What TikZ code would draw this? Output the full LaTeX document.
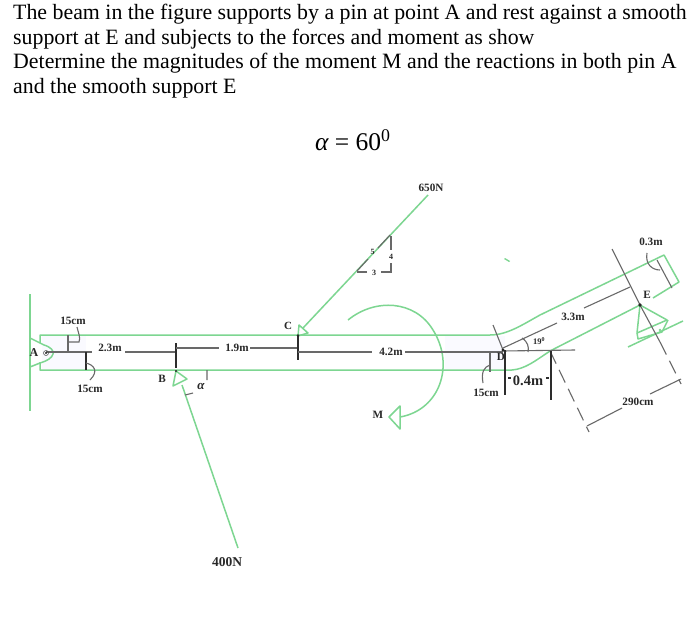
\documentclass[tikz,border=0pt]{standalone}
\usepackage{fontspec}
\setmainfont{Liberation Serif}
\definecolor{bgreen}{RGB}{125,214,145}
\definecolor{dgray}{RGB}{105,105,105}
\definecolor{kgray}{RGB}{45,45,45}
\definecolor{tgray}{RGB}{40,40,40}
\begin{document}
\begin{tikzpicture}[x=1pt,y=-1pt,
  gr/.style={draw=bgreen,line width=1.5pt,line join=round},
  dim/.style={draw=dgray,line width=1.1pt},
  dimk/.style={draw=kgray,line width=1.1pt},
  lab/.style={font=\bfseries\fontsize{11.2}{13}\selectfont,text=tgray,inner sep=0pt},
  ttl/.style={font=\fontsize{21.85}{25}\selectfont,anchor=base west,inner sep=0pt,text=black}]
\useasboundingbox (0,0) rectangle (700,628);
\fill[white] (0,0) rectangle (700,628);
% title
\node[ttl] (t1) at (13,19.5) {The beam in the figure supports by a pin at point A and rest against a smooth};
\node[ttl] (t2) at (13,44.2) {support at E and subjects to the forces and moment as show};
\node[ttl] (t3) at (13,68.9) {Determine the magnitudes of the moment M and the reactions in both pin A};
\node[ttl] (t4) at (13,93.6) {and the smooth support E};
\node[ttl,font=\fontsize{25.5}{28}\selectfont] (alpha) at (315,151) {\itshape α\upshape{} = 60\textsuperscript{0}};
% faint fills
\fill[blue!2] (42,336) -- (86,336) -- (86,369) -- (42,369) -- cycle;
\fill[blue!2] (445,336) -- (505,336) -- (505,369) -- (445,369) -- cycle;
% wall and pin
\draw[gr] (30,294) -- (30,411);
\draw[gr] (30,338) -- (44,345) .. controls (51,347) and (54,351) .. (53,354) .. controls (52,358) and (47,361) .. (40,363) -- (30,367);
\draw[gr] (40,343) -- (40,335) -- (490,335) .. controls (507,335) and (522,325) .. (540,315) -- (664,255) -- (679,282) -- (653,298);
\draw[gr] (40,362) -- (40,370) -- (512,370) .. controls (525,369) and (535,361) .. (550,351) -- (640,305);
\fill[bgreen] (505,258) -- (510,261) -- (509,262) -- (504,259) -- cycle;
% E support
\draw[gr] (640,305) -- (667,320) -- (637,333) -- cycle;
\draw[gr] (637,333) -- (638,339) -- (662,332) -- (668,320);
\draw[gr] (628,347) -- (683,321);
\fill[bgreen] (649,336) circle (1.3) (660,330) circle (1.3);
% 650N
\draw[gr] (428,195) -- (303,328);
\draw[gr] (298,336) -- (299,325) -- (308,333) -- cycle;
% 400N
\draw[gr] (238,548) -- (182,385);
\draw[gr] (176,371) -- (173,386) -- (187,379) -- cycle;
% moment
\draw[gr] (348,320) .. controls (375,298) and (415,300) .. (433,330) .. controls (455,365) and (440,410) .. (400,417);
\draw[gr] (389,417) -- (400,406) -- (400,429) -- cycle;
% dimension lines
\draw[dim] (46,352) -- (92,352) (125,352) -- (176,352);
\draw[dimk] (176,343) -- (176,368);
\draw[dim] (176,348) -- (219,348) (250,348) -- (298,348);
\draw[dimk] (298,336) -- (298,360);
\draw[dim] (298,352) -- (372,352) (405,352) -- (503,352);
\draw[dim] (503,351) -- (575,350);
\draw[dim] (493,325) -- (503,350);
\draw[dim] (503,348) -- (557,323) (584,308) -- (630,287);
\draw[dim] (612,249) -- (640,305) -- (660,342);
\draw[dim,dash pattern=on 14pt off 7pt] (660,342) -- (681,384);
\draw[dim] (681,379) -- (650,394) (622,408) -- (587,426);
\draw[dim,dash pattern=on 14pt off 7pt] (550,351) -- (589,432);
\draw[dim] (657,260) -- (672,288);
\draw[dim] (647,253) .. controls (645,264) and (652,270) .. (660,270);
% small leaders
\draw[dim] (68,335) -- (68,352);
\draw[dim] (68,342) -- (79,342) .. controls (81,338) and (78,332) .. (77,327);
\draw[dimk] (86,352) -- (86,370);
\draw[dim] (86,363) .. controls (94,365) and (99,371) .. (90,380);
\draw[dim] (207,370) -- (207,380) (185,395) -- (193,393);
\draw[dim] (522,338) .. controls (528,342) and (529,347) .. (528,352);
\draw[dim] (490,352) -- (490,372);
\draw[dim] (490,365) .. controls (484,367) and (481,372) .. (483,383);
\draw[dimk] (505,350) -- (505,395) (551,351) -- (551,400);
\draw[dimk] (508,378) -- (511,378) (546,378) -- (549,378);
% 3-4-5
\draw[dim] (357,271) -- (368,259) (378,248) -- (390,235);
\draw[dim] (391,236) -- (391,250) (391,263) -- (391,272) -- (381,272) (367,272) -- (357,272);
% dots
\fill[black!85] (46,353) circle (1.2) (176,371) circle (1.2) (298,335.5) circle (1.4) (503,350) circle (1.6) (640,305) circle (1.8);
\draw[black!70,line width=.5pt] (46,353) circle (2.5);
% labels
\node[lab] (l15a) at (73,321) {15cm};
\node[lab] (l15b) at (90,389) {15cm};
\node[lab,font=\bfseries\fontsize{12}{14}\selectfont] (lA) at (34,353) {A};
\node[lab] (l23) at (110,348) {2.3m};
\node[lab] (lB) at (162,379) {B};
\node[lab,font=\bfseries\itshape\fontsize{13}{15}\selectfont] (la) at (201,386) {α};
\node[lab] (l19) at (237,348) {1.9m};
\node[lab,font=\bfseries\fontsize{11}{13}\selectfont] (lC) at (288,326) {C};
\node[lab] (l42) at (391,352) {4.2m};
\node[lab] (l650) at (431,188) {650N};
\node[lab,font=\bfseries\fontsize{8}{10}\selectfont] (l5) at (372.5,252) {5};
\node[lab,font=\bfseries\fontsize{8}{10}\selectfont] (l4) at (391,257) {4};
\node[lab,font=\bfseries\fontsize{8}{10}\selectfont] (l3) at (374,273) {3};
\node[lab] (lM) at (378,415) {M};
\node[lab,font=\bfseries\fontsize{13.5}{15}\selectfont] (l400) at (227,562) {400N};
\node[lab] (l15c) at (486,393) {15cm};
\node[lab,font=\bfseries\fontsize{14.5}{16}\selectfont] (l04) at (528,381) {0.4m};
\node[lab,font=\bfseries\fontsize{8.5}{10}\selectfont] (l19d) at (539,341) {19\textsuperscript{0}};
\node[lab] (lD) at (501,357) {D};
\node[lab] (l33) at (573,317) {3.3m};
\node[lab] (l03) at (651,242) {0.3m};
\node[lab] (lE) at (647,295) {E};
\node[lab] (l290) at (638,402) {290cm};
\end{tikzpicture}
\end{document}
